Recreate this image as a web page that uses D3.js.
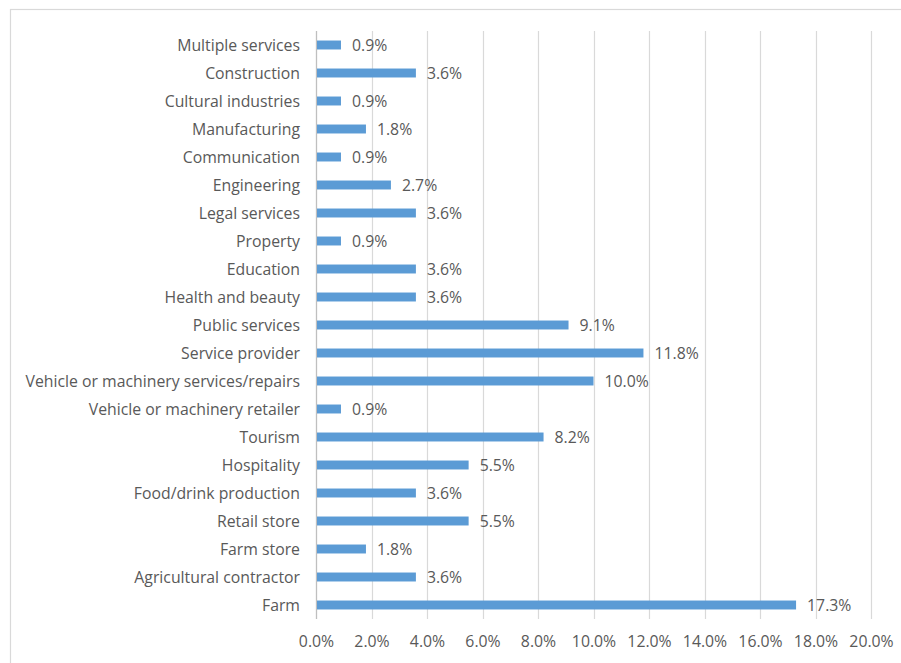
<!DOCTYPE html>
<html>
<head>
<meta charset="utf-8">
<script src="https://cdn.jsdelivr.net/npm/d3@7"></script>
<style>
  body { margin: 0; background: #fff; }
  svg text { font-family: "Open Sans", "Noto Sans", sans-serif; fill: #595959; }
</style>
</head>
<body>
<div id="chart"></div>
<script>
// categories top to bottom, as in the picture
var categories = [
  "Multiple services", "Construction", "Cultural industries", "Manufacturing",
  "Communication", "Engineering", "Legal services", "Property", "Education",
  "Health and beauty", "Public services", "Service provider",
  "Vehicle or machinery services/repairs", "Vehicle or machinery retailer",
  "Tourism", "Hospitality", "Food/drink production", "Retail store",
  "Farm store", "Agricultural contractor", "Farm"
];
var values = [0.9, 3.6, 0.9, 1.8, 0.9, 2.7, 3.6, 0.9, 3.6, 3.6, 9.1, 11.8,
  10.0, 0.9, 8.2, 5.5, 3.6, 5.5, 1.8, 3.6, 17.3];
var xTicks = [0, 2, 4, 6, 8, 10, 12, 14, 16, 18, 20];

var width = 901, height = 663;
var margin = { top: 31, right: 30, bottom: 44, left: 316 };
var fontSize = 15.8;

var data = categories.map(function(c, i){ return { name: c, value: values[i] }; });

var svg = d3.select("#chart").append("svg")
  .attr("width", width)
  .attr("height", height);

// outer frame
svg.append("rect")
  .attr("x", 10.5).attr("y", 9.5)
  .attr("width", 900).attr("height", 670)
  .attr("fill", "none")
  .attr("stroke", "#d9d9d9")
  .attr("stroke-width", 1.2);

var x = d3.scaleLinear()
  .domain([0, 20])
  .range([margin.left, width - margin.right]);

var y = d3.scaleBand()
  .domain(categories)
  .range([margin.top, height - margin.bottom])
  .paddingInner(0.68)
  .paddingOuter(0.34);

// grid
svg.append("g")
  .selectAll("line")
  .data(xTicks)
  .join("line")
  .attr("x1", d => Math.round(x(d)) + 0.5)
  .attr("x2", d => Math.round(x(d)) + 0.5)
  .attr("y1", margin.top)
  .attr("y2", height - margin.bottom)
  .attr("stroke", "#d9d9d9")
  .attr("stroke-width", 1.2);

// x axis labels
var xAxis = d3.axisBottom(x)
  .tickValues(xTicks)
  .tickFormat(d => d.toFixed(1) + "%")
  .tickSize(0)
  .tickPadding(17);

svg.append("g")
  .attr("transform", `translate(0,${height - margin.bottom})`)
  .call(xAxis)
  .call(g => g.select(".domain").remove())
  .call(g => g.selectAll("text").attr("font-size", fontSize).attr("fill", "#595959"));

// y axis labels
var yAxis = d3.axisLeft(y).tickSize(0).tickPadding(16);
svg.append("g")
  .attr("transform", `translate(${margin.left},0)`)
  .call(yAxis)
  .call(g => g.select(".domain").remove())
  .call(g => g.selectAll("text").attr("font-size", fontSize).attr("fill", "#595959").attr("dy", "0.4em"));

// axis line at zero
svg.append("line")
  .attr("x1", x(0) + 0.5).attr("x2", x(0) + 0.5)
  .attr("y1", margin.top).attr("y2", height - margin.bottom)
  .attr("stroke", "#bfbfbf")
  .attr("stroke-width", 1.2);

// bars
svg.append("g")
  .attr("fill", "#5b9bd5")
  .selectAll("rect")
  .data(data)
  .join("rect")
  .attr("x", x(0) + 1)
  .attr("y", d => y(d.name))
  .attr("width", d => x(d.value) - x(0) - 1)
  .attr("height", y.bandwidth());

// value labels
svg.append("g")
  .attr("font-size", fontSize)
  .selectAll("text")
  .data(data)
  .join("text")
  .attr("x", d => x(d.value) + 11)
  .attr("y", d => y(d.name) + y.bandwidth() / 2)
  .attr("dy", "0.4em")
  .text(d => d.value.toFixed(1) + "%");
</script>
</body>
</html>
